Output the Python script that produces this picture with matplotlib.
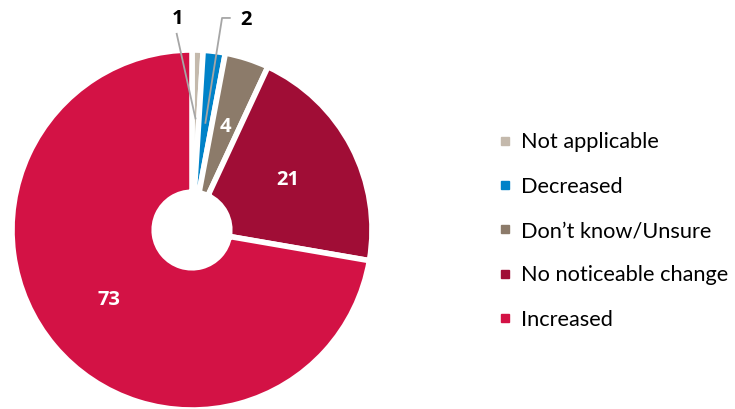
import numpy as np
import matplotlib.pyplot as plt
from matplotlib.lines import Line2D

plt.rcParams['font.family'] = ['Lato', 'DejaVu Sans']

categories = ["Not applicable", "Decreased", "Don\u2019t know/Unsure", "No noticeable change", "Increased"]
values = [1, 2, 4, 21, 73]
colors = ["#C4B9AC", "#0082C8", "#8C7B6A", "#A00D36", "#D31245"]

W, H = 735, 409
cx, cy, R = 192, 230, 180
fig = plt.figure(figsize=(W / 100, H / 100), dpi=100)
ax = fig.add_axes([0, 0, 1, 1])

wedges, _ = ax.pie(values, colors=colors, startangle=90, counterclock=False,
                   radius=1.0, wedgeprops=dict(width=0.79, edgecolor='white', linewidth=4))
ax.set_xlim(-cx / R, (W - cx) / R)
ax.set_ylim(-(H - cy) / R, cy / R)
ax.set_aspect('equal')
ax.axis('off')

numfont = dict(family=['Open Sans', 'DejaVu Sans'], fontsize=14.5, fontweight='bold')
for w, v in zip(wedges, values):
    mid = np.deg2rad((w.theta1 + w.theta2) / 2)
    x, y = 0.6 * np.cos(mid), 0.6 * np.sin(mid)
    if v >= 4:
        ax.text(x, y, str(v), color='white', ha='center', va='center', **numfont)

# outside labels with leader lines for small slices
mid1 = np.deg2rad((wedges[0].theta1 + wedges[0].theta2) / 2)
p1 = (0.62 * np.cos(mid1), 0.62 * np.sin(mid1))
ax.plot([p1[0], -0.085], [p1[1], 1.09], color='#A6A6A6', lw=1.3)
ax.text(-0.078, 1.175, str(values[0]), color='black', ha='center', va='center', **numfont)

mid2 = np.deg2rad((wedges[1].theta1 + wedges[1].theta2) / 2)
p2 = (0.6 * np.cos(mid2), 0.6 * np.sin(mid2))
ax.plot([p2[0], 0.167, 0.21], [p2[1], 1.178, 1.178], color='#A6A6A6', lw=1.3)
ax.text(0.30, 1.165, str(values[1]), color='black', ha='center', va='center', **numfont)

handles = [Line2D([0], [0], marker='s', linestyle='none', markersize=5.5,
                  markerfacecolor=c, markeredgecolor=c) for c in colors]
ax.legend(handles, categories, loc='center left', bbox_to_anchor=(489 / W, 1 - 231 / H),
          bbox_transform=fig.transFigure, frameon=False, fontsize=15.7,
          handlelength=0.5, handletextpad=0.48, labelspacing=1.12, borderpad=0)

fig.savefig('out.png', dpi=100)
